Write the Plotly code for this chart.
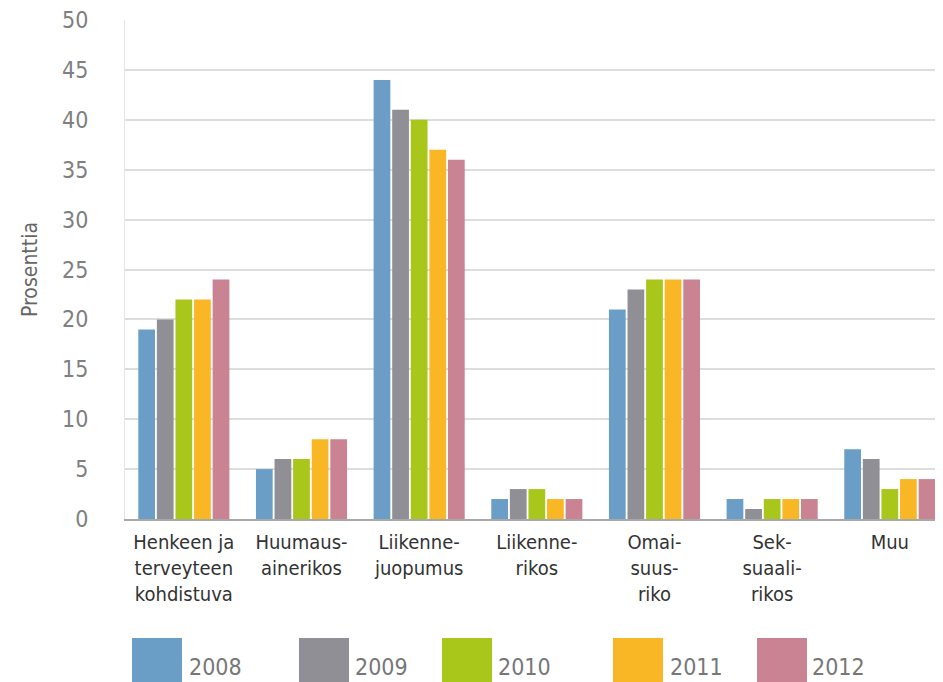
import plotly.graph_objects as go

categories = ["Henkeen ja<br>terveyteen<br>kohdistuva", "Huumaus-<br>ainerikos", "Liikenne-<br>juopumus",
              "Liikenne-<br>rikos", "Omai-<br>suus-<br>riko", "Sek-<br>suaali-<br>rikos", "Muu"]
years = ["2008", "2009", "2010", "2011", "2012"]
v2008 = [19, 5, 44, 2, 21, 2, 7]
v2009 = [20, 6, 41, 3, 23, 1, 6]
v2010 = [22, 6, 40, 3, 24, 2, 3]
v2011 = [22, 8, 37, 2, 24, 2, 4]
v2012 = [24, 8, 36, 2, 24, 2, 4]
y_ticks = [0, 5, 10, 15, 20, 25, 30, 35, 40, 45, 50]

series = [v2008, v2009, v2010, v2011, v2012]
colors = ["#6a9ec6", "#8f8f95", "#a9c61a", "#f9b726", "#c98393"]

OFF = 8  # page body margin
W, H = 943, 682
L, R, T, B = 125 - OFF, 0, 20 - OFF, 163 + OFF
pw, ph = W - L - R, H - T - B

def px(x):
    return (x - OFF - L) / pw

def py(y):
    return (H - B - (y - OFF)) / ph

FONT = "DejaVu Sans Condensed, sans-serif"

fig = go.Figure()
idx = list(range(len(categories)))
for yr, vals, c in zip(years, series, colors):
    fig.add_trace(go.Bar(x=idx, y=vals, name=yr, marker=dict(color=c, line=dict(width=0)),
                         showlegend=False))

# custom legend with large swatches (pixel layout positions)
legend_swatch_px = [132, 299, 442, 613, 757]
legend_text_px = [189, 355, 498, 670, 812]
shapes = []
annotations = []
for yr, c, sx, tx in zip(years, colors, legend_swatch_px, legend_text_px):
    shapes.append(dict(type="rect", xref="paper", yref="paper",
                       x0=px(sx), x1=px(sx + 50), y0=py(700), y1=py(638),
                       fillcolor=c, line=dict(width=0), layer="above"))
    annotations.append(dict(xref="paper", yref="paper", x=px(tx - 2), y=py(667),
                            text=yr, showarrow=False, xanchor="left", yanchor="middle",
                            font=dict(family=FONT, size=23, color="#777777")))

fig.update_layout(
    width=W, height=H,
    margin=dict(l=L, r=R, t=T, b=B),
    paper_bgcolor="white", plot_bgcolor="white",
    barmode="group", bargap=0.21, bargroupgap=0.1,
    shapes=shapes, annotations=annotations,
    font=dict(family=FONT, color="#555555"),
    xaxis=dict(
        tickmode="array", tickvals=idx, ticktext=categories,
        range=[-0.5, 6.52], showgrid=False, zeroline=False,
        showline=True, linecolor="#a8a8a8", linewidth=2,
        ticks="", ticklabelstandoff=4,
        tickfont=dict(family=FONT, size=20, color="#333333"),
    ),
    yaxis=dict(
        range=[0, 50], tickvals=y_ticks, showgrid=True, gridcolor="#dddddd", gridwidth=1.5,
        zeroline=False, showline=True, linecolor="#e6e6e6", linewidth=1,
        ticks="", ticklabelstandoff=31, ticklabeloverflow="allow",
        tickfont=dict(family=FONT, size=23, color="#808080"),
        title=dict(text="Prosenttia", standoff=18, font=dict(family=FONT, size=21, color="#666666")),
    ),
)

fig.write_html("out.html")
